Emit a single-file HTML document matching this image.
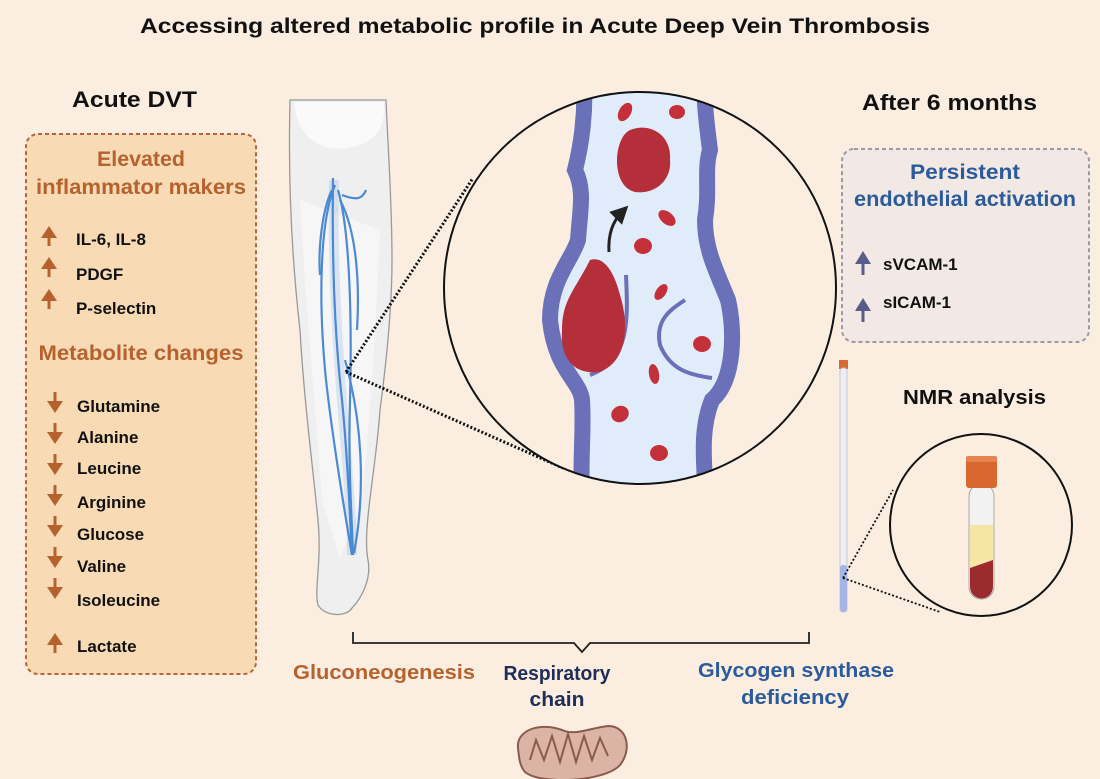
<!DOCTYPE html>
<html><head><meta charset="utf-8"><style>
html,body{margin:0;padding:0;background:#fbeee0;}
svg{display:block;font-family:"Liberation Sans",sans-serif;}
</style></head><body>
<svg width="1100" height="779" viewBox="0 0 1100 779" xmlns="http://www.w3.org/2000/svg">
<defs>
<clipPath id="cc"><circle cx="640" cy="288" r="196"/></clipPath>
<marker id="ah" markerWidth="6" markerHeight="6" refX="3" refY="3" orient="auto"><path d="M0,0L6,3L0,6z" fill="#222"/></marker>
</defs>
<rect width="1100" height="779" fill="#fbeee0"/>
<text x="535" y="33" font-size="21" font-weight="bold" text-anchor="middle" textLength="790" lengthAdjust="spacingAndGlyphs" fill="#111">Accessing altered metabolic profile in Acute Deep Vein Thrombosis</text>
<text x="72" y="107" font-size="22" font-weight="bold" textLength="125" lengthAdjust="spacingAndGlyphs" fill="#111">Acute DVT</text>
<text x="862" y="110" font-size="22" font-weight="bold" textLength="175" lengthAdjust="spacingAndGlyphs" fill="#111">After 6 months</text>

<!-- left box -->
<rect x="26" y="134" width="230" height="540" rx="12" fill="#f8dbb4" stroke="#b8653a" stroke-width="2" stroke-dasharray="4,3"/>
<g fill="#b5622f" font-weight="bold" font-size="21" text-anchor="middle">
<text x="141" y="166" textLength="88" lengthAdjust="spacingAndGlyphs">Elevated</text>
<text x="141" y="194" textLength="210" lengthAdjust="spacingAndGlyphs">inflammator makers</text>
<text x="141" y="360" textLength="205" lengthAdjust="spacingAndGlyphs">Metabolite changes</text>
</g>
<g fill="#111" font-weight="bold" font-size="17">
<text x="76" y="245">IL-6, IL-8</text>
<text x="76" y="280">PDGF</text>
<text x="76" y="314">P-selectin</text>
<text x="77" y="412">Glutamine</text>
<text x="77" y="443">Alanine</text>
<text x="77" y="474">Leucine</text>
<text x="77" y="508">Arginine</text>
<text x="77" y="540">Glucose</text>
<text x="77" y="572">Valine</text>
<text x="77" y="606">Isoleucine</text>
<text x="77" y="652">Lactate</text>
</g>
<g fill="#b5622f" stroke="#b5622f">
<g><line x1="49" y1="246" x2="49" y2="236" stroke-width="3"/><path d="M41,238L49,226L57,238z" stroke="none"/></g>
<g><line x1="49" y1="277" x2="49" y2="267" stroke-width="3"/><path d="M41,269L49,257L57,269z" stroke="none"/></g>
<g><line x1="49" y1="309" x2="49" y2="299" stroke-width="3"/><path d="M41,301L49,289L57,301z" stroke="none"/></g>
<g><line x1="55" y1="653" x2="55" y2="643" stroke-width="3"/><path d="M47,645L55,633L63,645z" stroke="none"/></g>
<g><line x1="55" y1="392" x2="55" y2="404" stroke-width="3"/><path d="M47,401L55,413L63,401z" stroke="none"/></g>
<g><line x1="55" y1="423" x2="55" y2="435" stroke-width="3"/><path d="M47,432L55,444L63,432z" stroke="none"/></g>
<g><line x1="55" y1="454" x2="55" y2="466" stroke-width="3"/><path d="M47,463L55,475L63,463z" stroke="none"/></g>
<g><line x1="55" y1="485" x2="55" y2="497" stroke-width="3"/><path d="M47,494L55,506L63,494z" stroke="none"/></g>
<g><line x1="55" y1="516" x2="55" y2="528" stroke-width="3"/><path d="M47,525L55,537L63,525z" stroke="none"/></g>
<g><line x1="55" y1="547" x2="55" y2="559" stroke-width="3"/><path d="M47,556L55,568L63,556z" stroke="none"/></g>
<g><line x1="55" y1="578" x2="55" y2="590" stroke-width="3"/><path d="M47,587L55,599L63,587z" stroke="none"/></g>
</g>

<!-- leg -->
<path d="M290,100 C288,180 292,260 300,330 C304,400 312,460 318,520 C322,560 314,590 318,605 C324,616 346,618 352,608 C360,600 372,580 368,560 C362,530 376,470 380,410 C388,350 392,300 392,260 C392,200 388,150 386,100 Z" fill="#efefef" stroke="#999" stroke-width="1.3"/>
<path d="M294,102 C298,145 330,155 360,145 C380,138 386,120 384,102 Z" fill="#fafafa"/>
<path d="M300,200 C305,300 315,400 322,500 L340,560 L362,500 C370,420 376,330 380,230 Z" fill="#f8f8f8" opacity=".8"/>
<g stroke="#3b7fd0" stroke-width="10" fill="none" opacity=".15">
<path d="M334,180 C332,260 338,360 346,450 C350,500 352,530 352,555"/>
</g>
<g stroke="#3b7fd0" stroke-width="2.2" fill="none" opacity=".9">
<path d="M333,178 C332,250 334,330 342,400 C348,460 350,520 352,555"/>
<path d="M335,185 C320,220 318,300 326,380 C334,450 346,520 352,555"/>
<path d="M338,190 C350,230 352,320 350,400 C348,470 352,520 353,555"/>
<path d="M340,200 C356,230 360,280 357,330"/>
<path d="M342,195 C355,200 362,200 366,190"/>
<path d="M345,360 C362,420 366,490 354,553"/>
<path d="M332,190 C322,210 318,250 320,275"/>
</g>

<line x1="346" y1="372" x2="473" y2="178" stroke="#111" stroke-width="3" stroke-dasharray="2,2"/>
<line x1="346" y1="372" x2="563" y2="468" stroke="#111" stroke-width="3" stroke-dasharray="2,2"/>

<!-- big circle -->
<circle cx="640" cy="288" r="196" fill="#fbeee0"/>
<g clip-path="url(#cc)">
<path d="M584,80 C586,120 580,150 575,170 C585,190 580,210 578,240 C572,260 550,280 550,320 C555,370 580,380 582,400 C584,430 580,460 582,500 L706,500 C704,460 700,430 712,400 C735,380 735,330 728,300 C716,270 705,250 705,220 C710,190 704,170 710,150 C706,120 704,100 704,80 Z" fill="#e1ecfb"/>
<path d="M584,80 C586,120 580,150 575,170 C585,190 580,210 578,240 C572,260 550,280 550,320 C555,370 580,380 582,400 C584,430 580,460 582,500" fill="none" stroke="#6a71b8" stroke-width="16"/>
<path d="M704,80 C704,100 706,120 710,150 C704,170 710,190 705,220 C705,250 716,270 728,300 C735,330 735,380 712,400 C700,430 704,460 706,500" fill="none" stroke="#6a71b8" stroke-width="16"/>
<path d="M626,275 C628,320 630,360 590,375" fill="none" stroke="#6a71b8" stroke-width="4"/>
<path d="M685,300 C670,310 655,320 660,345 C670,370 690,375 712,378" fill="none" stroke="#6a71b8" stroke-width="4"/>
<path d="M590,260 C605,255 615,275 620,295 C628,320 630,360 600,372 C575,375 560,360 562,330 C562,300 575,290 590,260 Z" fill="#b52f3a"/>
<path d="M630,130 C650,122 672,135 670,160 C672,180 655,195 635,192 C618,188 615,165 618,150 C620,140 624,133 630,130 Z" fill="#b52f3a"/>
<g fill="#c4303a">
<ellipse cx="625" cy="112" rx="6" ry="10" transform="rotate(30 625 112)"/>
<ellipse cx="677" cy="112" rx="8" ry="7"/>
<ellipse cx="667" cy="218" rx="6" ry="10" transform="rotate(-50 667 218)"/>
<ellipse cx="643" cy="246" rx="9" ry="8"/>
<ellipse cx="661" cy="292" rx="5" ry="9" transform="rotate(35 661 292)"/>
<ellipse cx="702" cy="344" rx="9" ry="8"/>
<ellipse cx="654" cy="374" rx="5" ry="10" transform="rotate(-10 654 374)"/>
<ellipse cx="620" cy="414" rx="9" ry="8" transform="rotate(-30 620 414)"/>
<ellipse cx="659" cy="453" rx="9" ry="8"/>
</g>
<path d="M609,252 C608,235 612,222 622,212" fill="none" stroke="#222" stroke-width="3" marker-end="url(#ah)"/>
</g>
<circle cx="640" cy="288" r="196" fill="none" stroke="#111" stroke-width="2"/>

<!-- right box -->
<rect x="842" y="149" width="247" height="193" rx="12" fill="#f2e9e4" stroke="#9a9aa6" stroke-width="2" stroke-dasharray="4,3"/>
<g fill="#2c5b9c" font-weight="bold" font-size="21" text-anchor="middle">
<text x="965" y="179" textLength="110" lengthAdjust="spacingAndGlyphs">Persistent</text>
<text x="965" y="206" textLength="222" lengthAdjust="spacingAndGlyphs">endothelial activation</text>
</g>
<g fill="#111" font-weight="bold" font-size="17">
<text x="883" y="270">sVCAM-1</text>
<text x="883" y="308">sICAM-1</text>
</g>
<g fill="#585c88" stroke="#585c88">
<line x1="863" y1="275" x2="863" y2="262" stroke-width="3"/><path d="M855,264L863,251L871,264z" stroke="none"/>
<line x1="863" y1="322" x2="863" y2="309" stroke-width="3"/><path d="M855,311L863,298L871,311z" stroke="none"/>
</g>

<!-- NMR tube -->
<rect x="839" y="360" width="9" height="9" fill="#d66a36"/>
<rect x="840" y="368" width="7" height="244" rx="3" fill="#eceef2" stroke="#c5c8d2" stroke-width="1"/>
<rect x="840" y="565" width="7" height="47" rx="3" fill="#a7b4e6"/>
<text x="903" y="404" font-size="20" font-weight="bold" textLength="143" lengthAdjust="spacingAndGlyphs" fill="#111">NMR analysis</text>
<line x1="843" y1="578" x2="893" y2="490" stroke="#111" stroke-width="1.8" stroke-dasharray="2,2"/>
<line x1="843" y1="578" x2="940" y2="612" stroke="#111" stroke-width="1.8" stroke-dasharray="2,2"/>
<circle cx="981" cy="525" r="91" fill="#fbeee0" stroke="#111" stroke-width="2"/>
<rect x="969" y="484" width="25" height="115" rx="12" fill="#f2f2f2" stroke="#aaa"/>
<path d="M970,525 L993,525 L993,587 A11.5,11.5 0 0 1 970,587 Z" fill="#f5e6a6"/>
<path d="M970,568 L993,560 L993,587 A11.5,11.5 0 0 1 970,587 Z" fill="#9c2b2e"/>
<rect x="966" y="456" width="31" height="32" rx="3" fill="#d8682f"/>
<rect x="966" y="456" width="31" height="6" rx="2" fill="#e58450"/>

<!-- bracket -->
<path d="M353,632 L353,643 L574,643 L582,652 L590,643 L809,643 L809,632" fill="none" stroke="#222" stroke-width="1.8"/>
<g font-weight="bold" font-size="20" text-anchor="middle">
<text x="384" y="679" fill="#b5622f" textLength="182" lengthAdjust="spacingAndGlyphs">Gluconeogenesis</text>
<text x="557" y="680" fill="#1e2e58" textLength="107" lengthAdjust="spacingAndGlyphs">Respiratory</text>
<text x="557" y="706" fill="#1e2e58" textLength="55" lengthAdjust="spacingAndGlyphs">chain</text>
<text x="796" y="677" fill="#2c5b9c" textLength="196" lengthAdjust="spacingAndGlyphs">Glycogen synthase</text>
<text x="795" y="704" fill="#2c5b9c" textLength="108" lengthAdjust="spacingAndGlyphs">deficiency</text>
</g>
<!-- mitochondrion -->
<path d="M518,748 C516,730 540,722 562,730 C575,736 590,728 608,726 C628,726 632,750 620,765 C605,782 540,785 525,772 C519,765 519,756 518,748 Z" fill="#dcb4a6" stroke="#8a5a4e" stroke-width="2"/>
<path d="M530,760 L536,740 L544,760 L552,736 L560,762 L568,734 L576,762 L584,736 L592,760 L600,738 L608,756" fill="none" stroke="#8a5a4e" stroke-width="2"/>
</svg>
</body></html>
